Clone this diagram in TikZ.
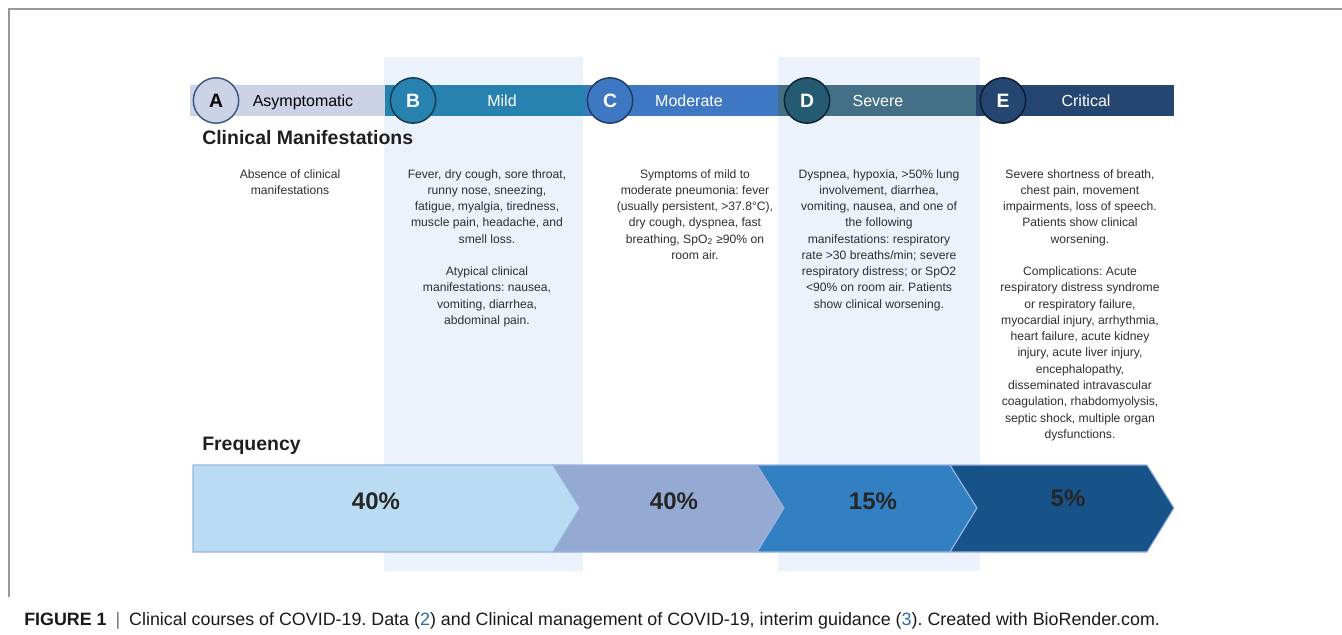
\documentclass[tikz,border=0pt]{standalone}
\usepackage{fontspec}
\setmainfont{Liberation Sans}
\usepackage{xcolor}
\usetikzlibrary{positioning,calc}
\definecolor{csombra}{HTML}{EBF2FB}
\definecolor{cA}{HTML}{CDD3E7}
\definecolor{cB}{HTML}{2782B0}
\definecolor{cC}{HTML}{3E78C3}
\definecolor{cD}{HTML}{437087}
\definecolor{cE}{HTML}{254670}
\definecolor{cDc}{HTML}{245A72}
\definecolor{cf1}{HTML}{BADCF3}
\definecolor{cf2}{HTML}{95AAD3}
\definecolor{cf3}{HTML}{327FC2}
\definecolor{cf4}{HTML}{175289}
\definecolor{cborde}{HTML}{9BB3DE}
\definecolor{ctexto}{HTML}{2E2E2E}
\definecolor{cref}{HTML}{2B6CB0}
\tikzset{
  barra/.style={rectangle, inner sep=0pt, minimum height=23.25pt, anchor=west},
  circ/.style={circle, inner sep=0pt, minimum size=34pt, line width=1.1pt,
    font=\fontsize{14.5}{14.5}\selectfont\bfseries, text=white},
  etapa/.style={font=\fontsize{12}{14}\selectfont, text=white,
    text height=8.6pt, text depth=0pt},
  sintomas/.style={anchor=north, align=center, inner sep=0pt, text=ctexto,
    font=\fontsize{9.1}{12.2}\selectfont},
  titulo/.style={anchor=west, inner sep=0pt, text=black!88,
    font=\fontsize{14.6}{16}\selectfont\bfseries},
  frec/.style={draw=cborde, line width=0.8pt, line join=miter},
  pct/.style={font=\fontsize{18}{18}\selectfont\bfseries, text=black!85},
}

\begin{document}
\frenchspacing
\begin{tikzpicture}[x=0.75pt, y=-0.75pt]
  \useasboundingbox (0,0) rectangle (1342,635);
  % marco
  \draw[black!40, line width=1pt] (9,597) -- (9,9) -- (1342,9);
  % columnas sombreadas
  \fill[csombra] (384,57) rectangle (583,571);
  \fill[csombra] (778,57) rectangle (980,571);

  % barra de etapas
  \node[barra, fill=cA, minimum width=146.25pt] (ba) at (190,100.5) {};
  \node[barra, fill=cB, minimum width=150pt] (bb) at (385,100.5) {};
  \node[barra, fill=cC, minimum width=144.75pt] (bc) at (585,100.5) {};
  \node[barra, fill=cD, minimum width=148.5pt] (bd) at (778,100.5) {};
  \node[barra, fill=cE, minimum width=148.5pt] (be) at (976,100.5) {};
  \node[circ, fill=cA, draw=cE!90, text=black] (ca) at (216,100.5) {A};
  \node[circ, fill=cB, draw=cB!45!black] (cb) at (413,100.5) {B};
  \node[circ, fill=cC, draw=cC!50!black] (cc) at (610,100.5) {C};
  \node[circ, fill=cDc, draw=cDc!40!black] (cd) at (807,100.5) {D};
  \node[circ, fill=cE, draw=cE!40!black] (ce) at (1003,100.5) {E};
  \node[etapa, text=black] (la) at (303,100.5) {Asymptomatic};
  \node[etapa] (lb) at (502,100.5) {Mild};
  \node[etapa] (lc) at (689,100.5) {Moderate};
  \node[etapa] (ld) at (878,100.5) {Severe};
  \node[etapa] (le) at (1086,100.5) {Critical};

  \node[titulo] (man) at (202,138) {Clinical Manifestations};

  \node[sintomas] (ta) at (290,169) {Absence of clinical\\manifestations};
  \node[sintomas] (tb) at (487,169) {Fever, dry cough, sore throat,\\runny nose, sneezing,\\
    fatigue, myalgia, tiredness,\\muscle pain, headache, and\\smell loss.\\[12.2pt]
    Atypical clinical\\manifestations: nausea,\\vomiting, diarrhea,\\abdominal pain.};
  \node[sintomas] (tc) at (695,169) {Symptoms of mild to\\moderate pneumonia: fever\\
    (usually persistent, >37.8°C),\\dry cough, dyspnea, fast\\
    breathing, SpO\textsubscript{2} ≥90\% on\\room air.};
  \node[sintomas] (td) at (879,169) {Dyspnea, hypoxia, >50\% lung\\involvement, diarrhea,\\
    vomiting, nausea, and one of\\the following\\manifestations: respiratory\\
    rate >30 breaths/min; severe\\respiratory distress; or SpO2\\
    <90\% on room air. Patients\\show clinical worsening.};
  \node[sintomas] (te) at (1080,169) {Severe shortness of breath,\\chest pain, movement\\
    impairments, loss of speech.\\Patients show clinical\\worsening.\\[12.2pt]
    Complications: Acute\\respiratory distress syndrome\\or respiratory failure,\\
    myocardial injury, arrhythmia,\\heart failure, acute kidney\\injury, acute liver injury,\\
    encephalopathy,\\disseminated intravascular\\coagulation, rhabdomyolysis,\\
    septic shock, multiple organ\\dysfunctions.};

  \node[titulo] (frq) at (202,446) {Frequency};

  % flechas de frecuencia
  \filldraw[frec, fill=cf1] (193,465) -- (553,465) -- (580,508) -- (553,552) -- (193,552) -- cycle;
  \filldraw[frec, fill=cf2] (553,465) -- (757,465) -- (784,508) -- (757,552) -- (553,552) -- (580,508) -- cycle;
  \filldraw[frec, fill=cf3] (757,465) -- (950,465) -- (977,508) -- (950,552) -- (757,552) -- (784,508) -- cycle;
  \filldraw[frec, fill=cf4] (950,465) -- (1147,465) -- (1174,508) -- (1147,552) -- (950,552) -- (977,508) -- cycle;
  \node[pct] (p1) at (376,501) {40\%};
  \node[pct] (p2) at (674,501) {40\%};
  \node[pct] (p3) at (873,501) {15\%};
  \node[pct] (p4) at (1068,498) {5\%};

  \node[anchor=west, inner sep=0pt, text=black!90, font=\fontsize{13.4}{15}\selectfont] (pie) at (24,621)
    {\textbf{FIGURE 1}\enspace{\color{black!55}|}\enspace Clinical courses of COVID-19. Data ({\color{cref}2}) and Clinical management of COVID-19, interim guidance ({\color{cref}3}). Created with BioRender.com.};
\end{tikzpicture}
\end{document}
